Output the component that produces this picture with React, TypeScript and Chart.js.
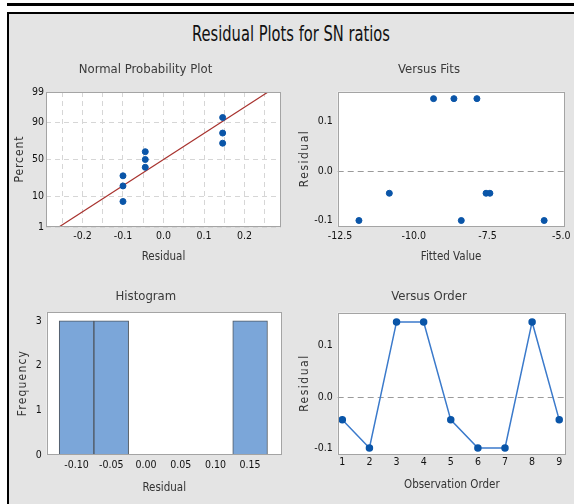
import React, { useEffect, useRef, useMemo } from 'react';
import { Chart, registerables } from 'chart.js';
Chart.register(...registerables);

const FONT = "'Liberation Sans Narrow', 'DejaVu Sans Condensed', 'Arial Narrow', sans-serif";

const mainTitle = 'Residual Plots for SN ratios';

// Normal probability plot
const nppResiduals = [-0.1, -0.1, -0.1, -0.045, -0.045, -0.045, 0.146, 0.146, 0.146];
const nppPercents = [7.4, 18.1, 28.7, 39.4, 50.0, 60.6, 71.3, 81.9, 92.6];
const nppFitResiduals = [-0.258, 0.258];
const nppFitPercents = [1, 99];
const nppXGrid = [-0.25, -0.2, -0.15, -0.1, -0.05, 0, 0.05, 0.1, 0.15, 0.2, 0.25];
const nppXLabels = ['', '-0.2', '', '-0.1', '', '0.0', '', '0.1', '', '0.2', ''];
const nppYTicks = [1, 10, 50, 90, 99];

// Versus fits
const fitsFitted = [-11.86, -10.83, -9.33, -8.64, -8.39, -7.86, -7.55, -7.42, -5.58];
const fitsResiduals = [-0.1, -0.045, 0.146, 0.146, -0.1, 0.146, -0.045, -0.045, -0.1];
const fitsXTicks = [-12.5, -10.0, -7.5, -5.0];
const residTicks = [-0.1, 0.0, 0.1];

// Histogram
const histCenters = [-0.1, -0.05, 0.0, 0.05, 0.1, 0.15];
const histCounts = [3, 3, 0, 0, 0, 3];
const histXTicks = [-0.1, -0.05, 0.0, 0.05, 0.1, 0.15];
const histYTicks = [0, 1, 2, 3];

// Versus order
const orderObs = [1, 2, 3, 4, 5, 6, 7, 8, 9];
const orderResiduals = [-0.045, -0.1, 0.146, 0.146, -0.045, -0.1, -0.1, 0.146, -0.045];

function probit(p: number): number {
  const a = [-3.969683028665376e1, 2.209460984245205e2, -2.759285104469687e2, 1.38357751867269e2, -3.066479806614716e1, 2.506628277459239];
  const b = [-5.447609879822406e1, 1.615858368580409e2, -1.556989798598866e2, 6.680131188771972e1, -1.328068155288572e1];
  const c = [-7.784894002430293e-3, -3.223964580411365e-1, -2.400758277161838, -2.549732539343734, 4.374664141464968, 2.938163982698783];
  const d = [7.784695709041462e-3, 3.224671290700398e-1, 2.445134137142996, 3.754408661907416];
  const pl = 0.02425;
  let q: number, r: number;
  if (p < pl) {
    q = Math.sqrt(-2 * Math.log(p));
    return (((((c[0] * q + c[1]) * q + c[2]) * q + c[3]) * q + c[4]) * q + c[5]) / ((((d[0] * q + d[1]) * q + d[2]) * q + d[3]) * q + 1);
  }
  if (p <= 1 - pl) {
    q = p - 0.5; r = q * q;
    return ((((((a[0] * r + a[1]) * r + a[2]) * r + a[3]) * r + a[4]) * r + a[5]) * q) / (((((b[0] * r + b[1]) * r + b[2]) * r + b[3]) * r + b[4]) * r + 1);
  }
  q = Math.sqrt(-2 * Math.log(1 - p));
  return -(((((c[0] * q + c[1]) * q + c[2]) * q + c[3]) * q + c[4]) * q + c[5]) / ((((d[0] * q + d[1]) * q + d[2]) * q + d[3]) * q + 1);
}

const POINT = '#0a55a8';
const tickFont = { family: FONT, size: 10.5 };
const axisTitleFont = { family: FONT, size: 11.5 };
const panelTitleFont = { family: FONT, size: 13, weight: 'normal' as const };

const framePlugin = {
  id: 'frame',
  beforeDraw(chart: any) {
    const { ctx, chartArea: ca } = chart;
    ctx.save();
    ctx.fillStyle = '#ffffff';
    ctx.fillRect(ca.left, ca.top, ca.right - ca.left, ca.bottom - ca.top);
    ctx.restore();
  },
  beforeDatasetsDraw(chart: any, _a: any, opts: any) {
    if (!opts || !opts.zeroLine) return;
    const { ctx, chartArea: ca } = chart;
    const y = Math.round(chart.scales.y.getPixelForValue(0)) + 0.5;
    ctx.save();
    ctx.strokeStyle = '#9a9a9a';
    ctx.lineWidth = 1;
    ctx.setLineDash([6, 4]);
    ctx.beginPath();
    ctx.moveTo(ca.left, y);
    ctx.lineTo(ca.right, y);
    ctx.stroke();
    ctx.restore();
  },
  afterDraw(chart: any, _a: any, opts: any) {
    const { ctx, chartArea: ca, scales } = chart;
    ctx.save();
    ctx.strokeStyle = '#a4a4a4';
    ctx.lineWidth = 1;
    ctx.strokeRect(Math.round(ca.left) + 0.5, Math.round(ca.top) + 0.5, Math.round(ca.right - ca.left) - 1, Math.round(ca.bottom - ca.top) - 1);
    if (opts && opts.yTitle) {
      ctx.translate(scales.y.left + opts.yTitleX, (ca.top + ca.bottom) / 2);
      ctx.rotate(-Math.PI / 2);
      ctx.font = `${opts.yTitleSize || 12}px ${FONT}`;
      (ctx as any).letterSpacing = (opts.yTitleSpacing || 0) + 'px';
      ctx.textAlign = 'center';
      ctx.textBaseline = 'middle';
      ctx.fillStyle = '#333';
      ctx.fillText(opts.yTitle, (opts.yTitleSpacing || 0) / 2, 0);
    }
    ctx.restore();
  },
};

function basePlugins(title: string, padTop: number, padBottom: number, frame: any) {
  return {
    legend: { display: false },
    tooltip: { enabled: false },
    title: { display: true, text: title, font: panelTitleFont, color: '#3a3a3a', padding: { top: padTop, bottom: padBottom } },
    frame,
  };
}

function xAxis(opts: any) {
  return {
    type: 'linear',
    min: opts.min,
    max: opts.max,
    offset: false,
    afterFit: (s: any) => { s.height = opts.height; },
    afterBuildTicks: (s: any) => { s.ticks = opts.ticks.map((v: number) => ({ value: v })); },
    ticks: { autoSkip: false, maxRotation: 0, padding: opts.tickPad, font: tickFont, color: '#111', callback: opts.callback },
    grid: opts.grid || { display: false, drawTicks: false },
    border: { display: false, dash: [5, 4] },
    title: { display: true, text: opts.title, font: axisTitleFont, color: '#333', padding: { top: 0, bottom: opts.titlePad } },
  };
}

function yAxis(opts: any) {
  return {
    type: 'linear',
    min: opts.min,
    max: opts.max,
    afterFit: (s: any) => { s.width = opts.width; },
    afterBuildTicks: (s: any) => { s.ticks = opts.ticks.map((v: number) => ({ value: v })); },
    ticks: { autoSkip: false, padding: opts.tickPad, font: tickFont, color: '#111', callback: opts.callback },
    grid: opts.grid || { display: false, drawTicks: false },
    border: { display: false, dash: [5, 4] },
    title: { display: false },
  };
}

const nppConfig: any = {
  type: 'scatter',
  data: {
    datasets: [
      {
        type: 'line',
        data: nppFitResiduals.map((x, i) => ({ x, y: probit(nppFitPercents[i] / 100) })),
        borderColor: '#a8322e',
        borderWidth: 1.2,
        pointRadius: 0,
        fill: false,
        order: 2,
      },
      {
        type: 'scatter',
        data: nppResiduals.map((x, i) => ({ x, y: probit(nppPercents[i] / 100) })),
        backgroundColor: POINT,
        borderColor: POINT,
        pointRadius: 3,
        order: 1,
      },
    ],
  },
  options: {
    layout: { padding: { top: 0, right: 9, bottom: 0, left: 0 } },
    plugins: basePlugins('Normal Probability Plot', 1.5, 14.9, { yTitle: 'Percent', yTitleX: 10, yTitleSpacing: 0.9 }),
    scales: {
      x: xAxis({
        min: -0.29, max: 0.29, height: 43, ticks: nppXGrid, tickPad: 3.4, title: 'Residual', titlePad: 6.4,
        callback: (_v: number, i: number) => nppXLabels[i],
        grid: { color: '#d6d6d6', drawTicks: false, lineWidth: 1 },
      }),
      y: yAxis({
        min: probit(0.01), max: probit(0.99), width: 36, ticks: nppYTicks.map((p) => probit(p / 100)), tickPad: 2,
        callback: (_v: number, i: number) => String(nppYTicks[i]),
        grid: { color: '#d6d6d6', drawTicks: false, lineWidth: 1 },
      }),
    },
  },
};

const fitsConfig: any = {
  type: 'scatter',
  data: {
    datasets: [
      {
        data: fitsFitted.map((x, i) => ({ x, y: fitsResiduals[i] })),
        backgroundColor: POINT,
        borderColor: POINT,
        pointRadius: 3,
      },
    ],
  },
  options: {
    layout: { padding: { top: 0, right: 8, bottom: 0, left: 0 } },
    plugins: basePlugins('Versus Fits', 1.5, 14.6, { zeroLine: true, yTitle: 'Residual', yTitleX: 13, yTitleSpacing: 1.5 }),
    scales: {
      x: xAxis({
        min: -12.58, max: -4.89, height: 43.3, ticks: fitsXTicks, tickPad: 3.4, title: 'Fitted Value', titlePad: 6.4,
        callback: (v: number) => v.toFixed(1),
      }),
      y: yAxis({
        min: -0.1125, max: 0.16, width: 45.7, ticks: residTicks, tickPad: 5,
        callback: (v: number) => v.toFixed(1),
      }),
    },
  },
};

const histConfig: any = {
  type: 'bar',
  data: {
    datasets: [
      {
        data: histCenters.map((x, i) => ({ x, y: histCounts[i] })),
        backgroundColor: '#7ba6d9',
        borderColor: '#4f5862',
        borderWidth: 1,
        borderSkipped: false,
        barPercentage: 1,
        categoryPercentage: 1,
      },
    ],
  },
  options: {
    layout: { padding: { top: 0, right: 8.3, bottom: 0, left: 0 } },
    plugins: basePlugins('Histogram', 8.9, 7.8, { yTitle: 'Frequency', yTitleX: 13.3, yTitleSpacing: 1.2 }),
    scales: {
      x: xAxis({
        min: -0.143, max: 0.1955, height: 49, ticks: histXTicks, tickPad: 3.7, title: 'Residual', titlePad: 8.8,
        callback: (v: number) => v.toFixed(2),
      }),
      y: yAxis({
        min: 0, max: 3.19, width: 36.7, ticks: histYTicks, tickPad: 5,
        callback: (v: number) => String(v),
      }),
    },
  },
};

const orderConfig: any = {
  type: 'line',
  data: {
    datasets: [
      {
        data: orderObs.map((x, i) => ({ x, y: orderResiduals[i] })),
        borderColor: '#3b7acb',
        borderWidth: 1.5,
        pointRadius: 3,
        pointBackgroundColor: POINT,
        pointBorderColor: POINT,
        tension: 0,
        fill: false,
      },
    ],
  },
  options: {
    layout: { padding: { top: 0, right: 8, bottom: 0, left: 0 } },
    plugins: basePlugins('Versus Order', 8.9, 8.2, { zeroLine: true, yTitle: 'Residual', yTitleX: 13, yTitleSpacing: 1.5 }),
    scales: {
      x: xAxis({
        min: 0.83, max: 9.25, height: 49, ticks: orderObs, tickPad: 1.4, title: 'Observation Order', titlePad: 12.1,
        callback: (v: number) => String(v),
      }),
      y: yAxis({
        min: -0.1136, max: 0.164, width: 45.7, ticks: residTicks, tickPad: 5,
        callback: (v: number) => v.toFixed(1),
      }),
    },
  },
};

function Panel({ config, left, top, width, height }: any) {
  const ref = useRef<HTMLCanvasElement>(null);
  useEffect(() => {
    if (!ref.current) return;
    const cfg = {
      ...config,
      options: { ...config.options, animation: false, responsive: false, maintainAspectRatio: false, devicePixelRatio: 1 },
      plugins: [framePlugin],
    };
    const chart = new Chart(ref.current, cfg);
    return () => chart.destroy();
  }, [config]);
  return (
    <canvas
      ref={ref}
      width={width}
      height={height}
      style={{ position: 'absolute', left, top, width, height }}
    />
  );
}

export default function App() {
  const titleScale = useMemo(() => {
    const c = document.createElement('canvas').getContext('2d');
    if (!c) return 1;
    c.font = `21px ${FONT}`;
    const w = c.measureText(mainTitle).width;
    return w > 0 ? 198 / w : 1;
  }, []);
  return (
    <div style={{ position: 'absolute', left: 0, top: 0, width: 574, height: 504, background: '#fff', overflow: 'hidden' }}>
      <div style={{ position: 'absolute', left: 7, top: 3, width: 567, height: 3, background: '#000' }} />
      <div
        style={{
          position: 'absolute', left: 7, top: 12, right: 0, bottom: 0,
          borderTop: '2px solid #000', borderLeft: '2px solid #000', background: '#e4e4e4',
        }}
      />
      <div
        style={{
          position: 'absolute', left: 291, top: 24, fontFamily: FONT, fontSize: 21, lineHeight: '21px',
          whiteSpace: 'nowrap', color: '#111', transform: `translateX(-50%) scaleX(${titleScale})`, transformOrigin: 'center',
        }}
      >
        {mainTitle}
      </div>
      <Panel config={nppConfig} left={10} top={60} width={280} height={210} />
      <Panel config={fitsConfig} left={292} top={60} width={282} height={210} />
      <Panel config={histConfig} left={10} top={280} width={280} height={224} />
      <Panel config={orderConfig} left={292} top={280} width={282} height={224} />
    </div>
  );
}
